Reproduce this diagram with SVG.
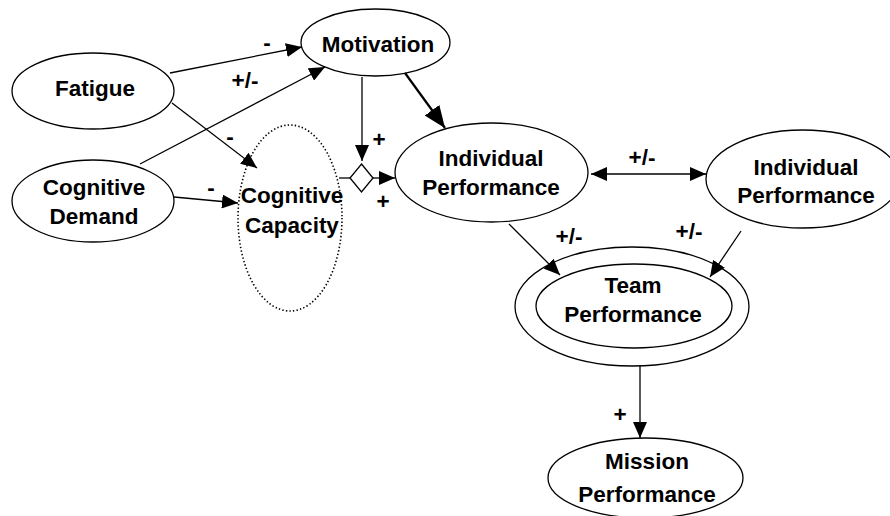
<svg xmlns="http://www.w3.org/2000/svg" width="890" height="516" viewBox="0 0 890 516">
<defs>
<style>
.n{fill:#fff;stroke:#000;stroke-width:1.3}
.d{fill:none;stroke:#000;stroke-width:1.6;stroke-dasharray:1.4 2.2}
.t{font-family:"Liberation Sans",Arial,sans-serif;font-weight:bold;font-size:22.5px;fill:#000;text-anchor:middle}
.c{fill:none;stroke:#000;stroke-width:1.3}
.k{fill:none;stroke:#000;stroke-width:2.2}
</style>
<marker id="a" markerUnits="userSpaceOnUse" markerWidth="16" markerHeight="14" refX="16" refY="7" orient="auto-start-reverse"><path d="M0,0 L16,7 L0,14 z" fill="#000"/></marker>
<marker id="b" markerUnits="userSpaceOnUse" markerWidth="22" markerHeight="18" refX="22" refY="9" orient="auto"><path d="M0,0 L22,9 L0,18 z" fill="#000"/></marker>
</defs>
<rect width="890" height="516" fill="#fff"/>
<g id="fatigue">
<ellipse class="n" cx="93" cy="91" rx="81" ry="38"/>
<text class="t" x="95" y="96">Fatigue</text>
</g>
<g id="cognitive-demand">
<ellipse class="n" cx="93" cy="201" rx="81" ry="41"/>
<text class="t" x="94" y="195">Cognitive</text>
<text class="t" x="94" y="224">Demand</text>
</g>
<g id="motivation">
<ellipse class="n" cx="375.5" cy="42.5" rx="74.5" ry="33.5"/>
<text class="t" x="378" y="52">Motivation</text>
</g>
<g id="cognitive-capacity">
<ellipse class="d" cx="290" cy="218" rx="52" ry="93"/>
<text class="t" x="292" y="203">Cognitive</text>
<text class="t" x="292" y="233">Capacity</text>
</g>
<g id="individual-performance-1">
<ellipse class="n" cx="491.5" cy="172.5" rx="96.5" ry="49.5"/>
<text class="t" x="491" y="166">Individual</text>
<text class="t" x="491" y="195">Performance</text>
</g>
<g id="individual-performance-2">
<ellipse class="n" cx="803" cy="179" rx="97" ry="49"/>
<text class="t" x="806" y="175">Individual</text>
<text class="t" x="806" y="203">Performance</text>
</g>
<g id="team-performance">
<ellipse class="n" cx="632" cy="306.5" rx="117" ry="59.5"/>
<ellipse class="n" cx="634" cy="306" rx="98" ry="42"/>
<text class="t" x="633" y="293">Team</text>
<text class="t" x="633" y="322">Performance</text>
</g>
<g id="mission-performance">
<ellipse class="n" cx="645.5" cy="478" rx="97.5" ry="40"/>
<text class="t" x="647" y="469">Mission</text>
<text class="t" x="647" y="502">Performance</text>
</g>
<g id="connectors">
<path class="c" d="M170,73 L302,47" marker-end="url(#a)"/>
<path class="c" d="M140,164 L325,67" marker-end="url(#a)"/>
<path class="c" d="M172,103 L257,168" marker-end="url(#a)"/>
<path class="c" d="M174,197 L238,203" marker-end="url(#a)"/>
<path class="c" d="M362,77 L362,161" marker-end="url(#a)"/>
<path class="k" d="M405,73 L445,128" marker-end="url(#b)"/>
<path class="c" d="M339,178 L350,178"/>
<path class="c" d="M373,178 L395,178" marker-end="url(#a)"/>
<path class="c" d="M591,174 L706,174" marker-start="url(#a)" marker-end="url(#a)"/>
<path class="c" d="M509,224 L560,275" marker-end="url(#a)"/>
<path class="c" d="M741,231 L710,277" marker-end="url(#a)"/>
<path class="c" d="M640,366 L640,438" marker-end="url(#a)"/>
<polygon id="diamond" class="n" points="361.5,164 373,178 361.5,192 350,178"/>
<text class="t" x="267" y="50">-</text>
<text class="t" x="245" y="88">+/-</text>
<text class="t" x="230" y="144">-</text>
<text class="t" x="211" y="195">-</text>
<text class="t" x="379" y="147">+</text>
<text class="t" x="383" y="209">+</text>
<text class="t" x="642" y="165">+/-</text>
<text class="t" x="569" y="244">+/-</text>
<text class="t" x="689" y="239">+/-</text>
<text class="t" x="620" y="422">+</text>
</g>
</svg>
